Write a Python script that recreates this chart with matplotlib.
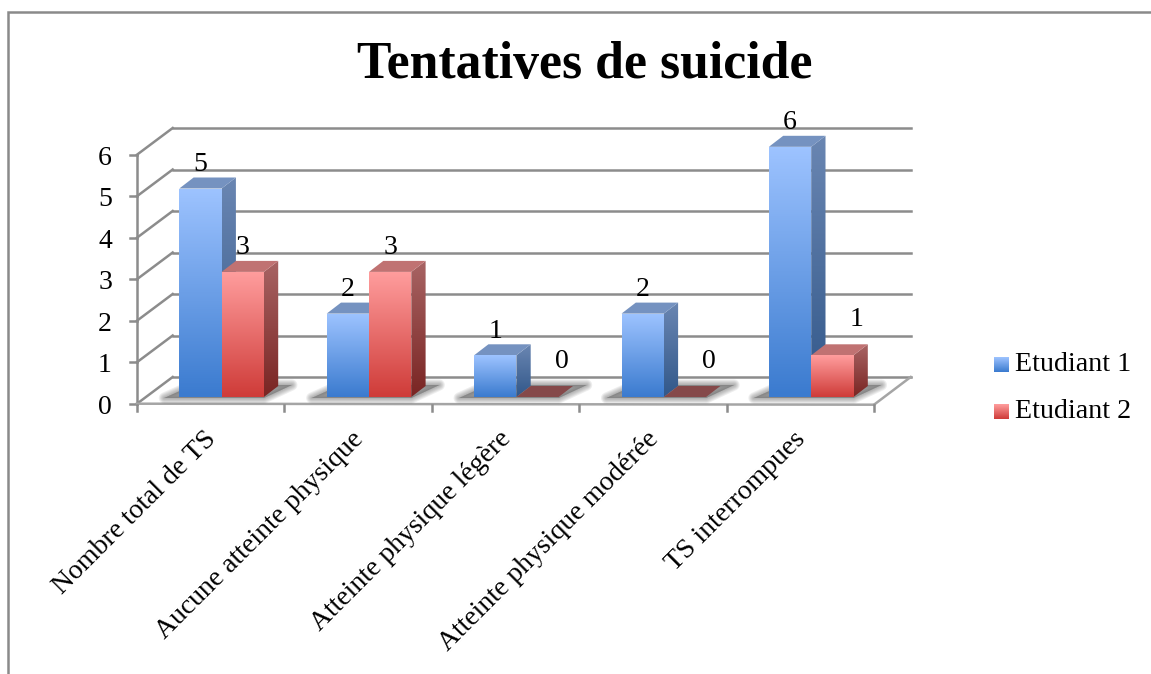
import numpy as np
import matplotlib
matplotlib.use("Agg")
import matplotlib.pyplot as plt
from matplotlib.colors import LinearSegmentedColormap
from matplotlib.patches import Polygon

# Donnees
categories = ["Nombre total de TS", "Aucune atteinte physique", "Atteinte physique légère",
              "Atteinte physique modérée", "TS interrompues"]
etudiant_1 = [5, 2, 1, 2, 6]
etudiant_2 = [3, 3, 0, 0, 1]
series_names = ["Etudiant 1", "Etudiant 2"]
y_ticks = [0, 1, 2, 3, 4, 5, 6]

W, H = 1151, 674
PX_X = 147.4   # pixels par categorie
PX_Y = 41.7    # pixels par unite
X0_PX, Y0_PX = 137, 397

plt.rcParams["font.family"] = ["Liberation Serif", "DejaVu Serif"]
fig = plt.figure(figsize=(W / 100, H / 100), dpi=100)
ax = fig.add_axes([0, 0, 1, 1])
ax.set_autoscale_on(False)
ax.axis("off")
ax.set_xlim(-X0_PX / PX_X, (W - X0_PX) / PX_X)
ax.set_ylim((Y0_PX - H) / PX_Y, Y0_PX / PX_Y)

# decalages de profondeur, en unites de donnees
def dx(px):
    return px / PX_X

def dy(px):
    return px / PX_Y

GRID = "#8c8c8c"
GRID_LW = 1.8
DEPTH_X, DEPTH_Y = dx(14.3), dy(11)
BAR_W = 42.3 / PX_X
BAR_X0 = 42.3 / PX_X  # marge entre le debut de la categorie et la barre

# murs et sol
wall_x0 = 0
wall_x1 = dx(35.7)
wall_low = dy(-6.7)
wall_rise = dy(26.7)
x_end = len(categories)
for v in y_ticks:
    y = wall_low + v * dy(41.5)
    ax.plot([wall_x0, wall_x1], [y, y + wall_rise], color=GRID, lw=GRID_LW, zorder=1)
    ax.plot([wall_x1, x_end + wall_x1 + dx(1)], [y + wall_rise] * 2, color=GRID, lw=GRID_LW, zorder=1)
    ax.plot([wall_x0 - dx(7), wall_x0], [y, y], color=GRID, lw=GRID_LW, zorder=1)
    ax.text(wall_x0 - dx(32), y - dy(3.5), str(v), fontsize=20, ha="center", va="center")
ax.plot([wall_x0, wall_x0], [wall_low, wall_low + y_ticks[-1] * dy(41.5)], color=GRID, lw=GRID_LW, zorder=1)
ax.plot([wall_x0, x_end], [wall_low, wall_low - dy(1)], color="#a5a5a5", lw=GRID_LW, zorder=1)
ax.plot([x_end, x_end + wall_x1 + dx(1)], [wall_low - dy(1), wall_low + wall_rise], color="#a5a5a5", lw=GRID_LW, zorder=1)
for i in range(len(categories) + 1):
    ax.plot([i, i], [wall_low - dy(1), wall_low - dy(7)], color=GRID, lw=GRID_LW, zorder=1)

# etiquettes de categories
for i, label in enumerate(categories):
    ax.text(i + 0.5 - dx(7), wall_low - dy(23), label, fontsize=20, rotation=45,
            rotation_mode="anchor", ha="right", va="top")


def gradient_face(poly, top, bottom, ylo, yhi, zorder):
    """remplit un polygone avec un degrade vertical"""
    cmap = LinearSegmentedColormap.from_list("g", [bottom, top])
    xs = [p[0] for p in poly]
    im = ax.imshow(np.linspace(1, 0, 64).reshape(-1, 1), cmap=cmap, aspect="auto",
                   extent=[min(xs), max(xs), ylo, yhi], zorder=zorder, interpolation="bilinear")
    patch = Polygon(poly, closed=True, transform=ax.transData, fc="none", ec="none")
    ax.add_patch(patch)
    im.set_clip_path(patch)


styles = [
    dict(front=("#9dc3ff", "#3b7bcf"), side=("#6a86b2", "#32588a"), top="#7592c0"),
    dict(front=("#ff9d9d", "#cf3c39"), side=("#a86464", "#7a2523"), top="#c07272"),
]

# ombres sur le sol
for i in range(len(categories)):
    x0 = i + BAR_X0
    x1 = x0 + 2 * BAR_W
    shadow = [(x0 - dx(15), -dy(1)), (x1, -dy(1)), (x1 + dx(28), dy(12)), (x0 + dx(14), dy(12))]
    for lw in [8, 6.5, 5, 3.5, 2, 0.5]:
        ax.add_patch(Polygon(shadow, closed=True, fc=(0.35, 0.35, 0.35, 0.1), ec=(0.35, 0.35, 0.35, 0.1),
                             lw=lw, joinstyle="round", zorder=2))

# barres 3D
for s, values in enumerate([etudiant_1, etudiant_2]):
    st = styles[s]
    for i, v in enumerate(values):
        x0 = i + BAR_X0 + s * BAR_W
        x1 = x0 + BAR_W
        z = 3 + i + s * 0.1
        top = [(x0, v), (x1, v), (x1 + DEPTH_X, v + DEPTH_Y), (x0 + DEPTH_X, v + DEPTH_Y)]
        if v == 0:
            ax.add_patch(Polygon(top, closed=True, fc="#85494a", ec="none", zorder=z))
        else:
            side = [(x1, 0), (x1 + DEPTH_X, DEPTH_Y), (x1 + DEPTH_X, v + DEPTH_Y), (x1, v)]
            front = [(x0, 0), (x1, 0), (x1, v), (x0, v)]
            gradient_face(side, st["side"][0], st["side"][1], 0, v + DEPTH_Y, z)
            ax.add_patch(Polygon(top, closed=True, fc=st["top"], ec="none", zorder=z))
            gradient_face(front, st["front"][0], st["front"][1], 0, v, z + 0.01)
        # valeur affichee ; les petites barres rouges ont l'etiquette decalee
        lx = (x0 + x1) / 2
        ly = v + dy(24)
        if s == 1 and v <= 1:
            lx += dx(24)
            ly += dy(12)
        ax.text(lx, ly, str(v), fontsize=20, ha="center", va="center", zorder=20)

# calque en pixels : cadre, titre, legende
ov = fig.add_axes([0, 0, 1, 1], facecolor="none")
ov.set_autoscale_on(False)
ov.axis("off")
ov.set_xlim(0, W)
ov.set_ylim(H, 0)
ov.plot([8, 8, W], [H, 12, 12], color="#8a8a8a", lw=1.8, solid_joinstyle="miter")
ov.text(584.5, 65, "Tentatives de suicide", fontsize=37.3, fontweight="bold", ha="center", va="center")

legend_cols = [("#9dc3ff", "#3b7bcf"), ("#ff9d9d", "#cf3c39")]
for k, name in enumerate(series_names):
    ytop = 357 + k * 47
    cmap = LinearSegmentedColormap.from_list("l", [legend_cols[k][0], legend_cols[k][1]])
    ov.imshow(np.linspace(0, 1, 32).reshape(-1, 1), cmap=cmap, aspect="auto",
              extent=[994, 1009, ytop + 15, ytop], interpolation="bilinear")
    ov.text(1015, ytop + 7.5, name, fontsize=20.2, ha="left", va="center")

fig.savefig("out.png", dpi=100)
